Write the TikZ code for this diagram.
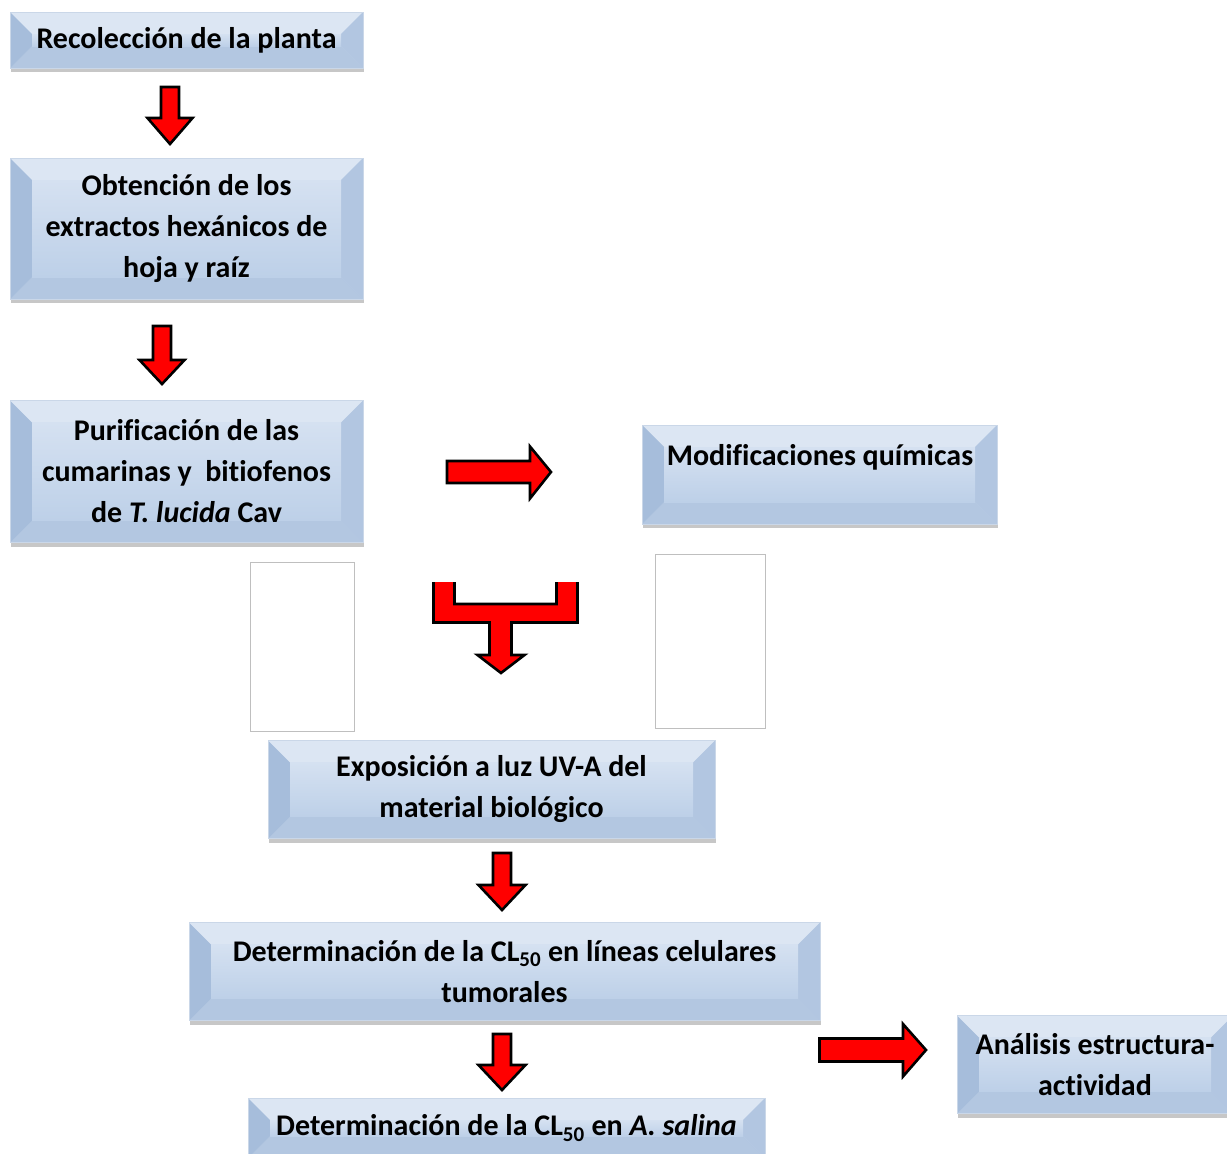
\documentclass[tikz,border=0pt]{standalone}
\usepackage{fontspec}
\setmainfont{Carlito}[Ligatures=NoCommon]
\usetikzlibrary{shadows}
\definecolor{faceT}{HTML}{D5E1F1}
\definecolor{faceB}{HTML}{BDD0E8}
\definecolor{bevL}{HTML}{A6BDDB}
\definecolor{bevR}{HTML}{B2C6E1}
\definecolor{bevT}{HTML}{DCE6F3}
\definecolor{bevB}{HTML}{B3C7E1}
\definecolor{edge}{HTML}{CAD7E8}
\tikzset{
  bevelbox/.style={shade, top color=faceT, bottom color=faceB, draw=edge, line width=0.8pt,
    inner sep=0pt, align=center,
    font=\fontsize{30}{41}\selectfont\bfseries,
    drop shadow={shadow xshift=1pt, shadow yshift=-4pt, opacity=0.4, fill=black!55},
    path picture={
      \path (path picture bounding box.south west) coordinate (pSW)
            (path picture bounding box.north west) coordinate (pNW)
            (path picture bounding box.south east) coordinate (pSE)
            (path picture bounding box.north east) coordinate (pNE);
      \fill[bevT] (pNW) -- (pNE) -- ([shift={(-22pt,-22pt)}]pNE) -- ([shift={(22pt,-22pt)}]pNW) -- cycle;
      \fill[bevB] (pSW) -- (pSE) -- ([shift={(-22pt,22pt)}]pSE) -- ([shift={(22pt,22pt)}]pSW) -- cycle;
      \fill[bevL] (pNW) -- (pSW) -- ([shift={(22pt,22pt)}]pSW) -- ([shift={(22pt,-22pt)}]pNW) -- cycle;
      \fill[bevR] (pNE) -- (pSE) -- ([shift={(-22pt,22pt)}]pSE) -- ([shift={(-22pt,-22pt)}]pNE) -- cycle;
      \shade[top color=faceT, bottom color=faceB] ([shift={(22pt,22pt)}]pSW) rectangle ([shift={(-22pt,-22pt)}]pNE);
    }},
  boxtext/.style={font=\fontsize{30}{41}\selectfont\bfseries, inner sep=0pt},
  redarrow/.style={fill=red, draw=black, line width=2.6pt, line join=miter},
  emptybox/.style={draw=black!25, line width=1pt, fill=white}
}
\begin{document}
\begin{tikzpicture}[x=1pt, y=-1pt]
\useasboundingbox (0,0) rectangle (1227,1154);
\clip (0,0) rectangle (1227,1154);
\fill[white] (0,0) rectangle (1227,1154);

% boxes
\node[bevelbox, minimum width=353pt, minimum height=56pt] (b1) at (186.5,40) {Recolección de la planta};
\node[bevelbox, minimum width=353pt, minimum height=141pt] (b2) at (186.5,228.5) {Obtención de los\\extractos hexánicos de\\hoja y raíz};
\node[bevelbox, minimum width=353pt, minimum height=142pt] (b3) at (186.5,471.5) {Purificación de las\\cumarinas y\ \ bitiofenos\\de \textit{T. lucida} Cav};
\node[bevelbox, minimum width=355pt, minimum height=99pt] (b4) at (819.5,474.5) {};
\node[boxtext, anchor=base] (b4t) at (820,465) {Modificaciones químicas};
\node[bevelbox, minimum width=447pt, minimum height=98pt] (b5) at (491.5,789.5) {Exposición a luz UV-A del\\material biológico};
\node[bevelbox, minimum width=631pt, minimum height=98pt] (b6) at (504.5,971.5) {Determinación de la CL\textsubscript{50} en líneas celulares\\tumorales};
\node[bevelbox, minimum width=276pt, minimum height=98pt] (b7) at (1095,1064.5) {Análisis estructura-\\actividad};
\node[bevelbox, minimum width=517pt, minimum height=60pt] (b8) at (506.5,1128) {Determinación de la CL\textsubscript{50} en \textit{A. salina}};

% empty rectangles
\draw[emptybox] (250,562) rectangle (354,731);
\draw[emptybox] (655,554) rectangle (765,728);

% down arrows
\draw[redarrow] (161,87) -- (179,87) -- (179,118) -- (192.5,118) -- (170,144) -- (147.5,118) -- (161,118) -- cycle;
\draw[redarrow] (153,326) -- (171,326) -- (171,360) -- (184.5,360) -- (162,384) -- (139.5,360) -- (153,360) -- cycle;
\draw[redarrow] (493,853) -- (511,853) -- (511,885) -- (525.5,885) -- (502,910) -- (478.5,885) -- (493,885) -- cycle;
\draw[redarrow] (493,1034) -- (511,1034) -- (511,1065) -- (525.5,1065) -- (502,1090) -- (478.5,1065) -- (493,1065) -- cycle;

% right arrows
\draw[redarrow] (447,461) -- (530,461) -- (530,446.5) -- (551,472) -- (530,498.5) -- (530,483) -- (447,483) -- cycle;
\draw[redarrow] (819.5,1038.5) -- (903,1038.5) -- (903,1024) -- (926,1050) -- (903,1076.5) -- (903,1061.5) -- (819.5,1061.5) -- cycle;

% T arrow (clipped at top)
\begin{scope}
\clip (400,582) rectangle (620,700);
\draw[redarrow] (433.5,570) -- (454.5,570) -- (454.5,604) -- (556.5,604) -- (556.5,570) -- (577.5,570)
  -- (577.5,622.5) -- (511.5,622.5) -- (511.5,655) -- (524.5,655) -- (501,673) -- (477.5,655) -- (489.5,655)
  -- (489.5,622.5) -- (433.5,622.5) -- cycle;
\end{scope}
\end{tikzpicture}
\end{document}
